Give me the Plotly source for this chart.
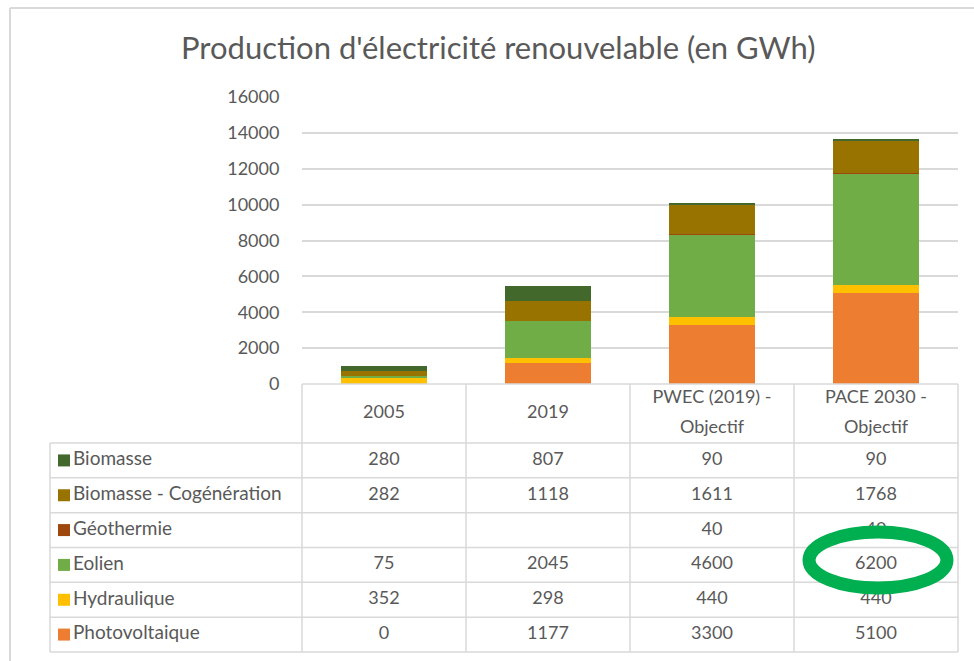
import plotly.graph_objects as go

# ---------------- data ----------------
categories = ["2005", "2019", "PWEC (2019) -\nObjectif", "PACE 2030 -\nObjectif"]
series_names = ["Biomasse", "Biomasse - Cogénération", "Géothermie", "Eolien", "Hydraulique", "Photovoltaique"]
biomasse = [280, 807, 90, 90]
cogeneration = [282, 1118, 1611, 1768]
geothermie = [None, None, 40, 40]
eolien = [75, 2045, 4600, 6200]
hydraulique = [352, 298, 440, 440]
photovoltaique = [0, 1177, 3300, 5100]
y_ticks = [0, 2000, 4000, 6000, 8000, 10000, 12000, 14000, 16000]
title_text = "Production d'électricité renouvelable (en GWh)"

series_values = [biomasse, cogeneration, geothermie, eolien, hydraulique, photovoltaique]
colors = ["#43682B", "#997300", "#9E480E", "#70AD47", "#FFC000", "#ED7D31"]

# ---------------- layout geometry (pixels) ----------------
W, H = 974, 661
PLOT_L, PLOT_R, PLOT_T, PLOT_B = 302, 958, 97, 384
TABLE_L = 50
HEADER_B = 443
ROW_H = (652 - HEADER_B) / 6
FONT = "Lato"
TXT = "#595959"
LINE = "#d9d9d9"

xcats = [c.replace("\n", " ") for c in categories]

fig = go.Figure()

# stacked bars: bottom-up order is reverse of table order
for name, vals, col in reversed(list(zip(series_names, series_values, colors))):
    fig.add_trace(go.Bar(
        x=xcats, y=vals, name=name, marker=dict(color=col, line=dict(width=0)),
        width=0.53, hoverinfo="skip", xaxis="x", yaxis="y"))

# ---------------- data table (overlay pixel axes) ----------------
col_w = (PLOT_R - PLOT_L) / len(categories)
col_centers = [PLOT_L + col_w * (i + 0.5) for i in range(len(categories))]

tx, ty, tt = [], [], []
hdr_mid = (PLOT_B + HEADER_B) / 2
for cx, cat in zip(col_centers, categories):
    lines = cat.split("\n")
    if len(lines) == 1:
        tx.append(cx); ty.append(hdr_mid); tt.append(lines[0])
    else:
        tx += [cx, cx]; ty += [hdr_mid - 15, hdr_mid + 15]; tt += lines
for r, vals in enumerate(series_values):
    cy = HEADER_B + ROW_H * (r + 0.5)
    for cx, v in zip(col_centers, vals):
        if v is not None:
            tx.append(cx); ty.append(cy); tt.append(str(v))

fig.add_trace(go.Scatter(
    x=tx, y=ty, text=tt, mode="text", textposition="middle center",
    textfont=dict(family=FONT, size=18, color=TXT),
    xaxis="x2", yaxis="y2", hoverinfo="skip", cliponaxis=False))

row_y = [HEADER_B + ROW_H * (r + 0.5) for r in range(len(series_names))]
fig.add_trace(go.Scatter(
    x=[73] * len(series_names), y=row_y, text=series_names, mode="text",
    textposition="middle right", textfont=dict(family=FONT, size=19, color=TXT),
    xaxis="x2", yaxis="y2", hoverinfo="skip", cliponaxis=False))
fig.add_trace(go.Scatter(
    x=[64] * len(series_names), y=row_y, mode="markers",
    marker=dict(symbol="square", size=12, color=colors, line=dict(width=0)),
    xaxis="x2", yaxis="y2", hoverinfo="skip", cliponaxis=False))

shapes = []
def line(x0, y0, x1, y1, color=LINE, w=1.5):
    shapes.append(dict(type="line", xref="x2", yref="y2", x0=x0, y0=y0, x1=x1, y1=y1,
                       line=dict(color=color, width=w), layer="above"))

line(PLOT_L, PLOT_B, PLOT_R, PLOT_B)
for i in range(7):
    yy = HEADER_B + ROW_H * i
    line(TABLE_L, yy, PLOT_R, yy)
line(TABLE_L, HEADER_B, TABLE_L, 652)
for i in range(len(categories) + 1):
    xx = PLOT_L + col_w * i
    line(xx, PLOT_B, xx, 652)

line(10, 8, W + 5, 8, w=2)
line(10, 8, 10, H + 5, w=2)

shapes.append(dict(type="circle", xref="x2", yref="y2", x0=809, x1=947, y0=532, y1=588,
                   line=dict(color="#00B050", width=13), layer="above"))

fig.update_layout(
    width=W, height=H, margin=dict(l=0, r=0, t=0, b=0, pad=0, autoexpand=False),
    paper_bgcolor="white", plot_bgcolor="rgba(0,0,0,0)",
    barmode="stack", showlegend=False,
    shapes=shapes,
    annotations=[dict(text=title_text, xref="paper", yref="paper", x=498 / W, y=1 - 47 / H,
                      xanchor="center", yanchor="middle", showarrow=False,
                      font=dict(family=FONT, size=31, color=TXT))],
    xaxis=dict(domain=[PLOT_L / W, PLOT_R / W], range=[-0.5, len(categories) - 0.5],
               showticklabels=False, showgrid=False, zeroline=False, showline=False,
               fixedrange=True),
    yaxis=dict(domain=[1 - PLOT_B / H, 1 - PLOT_T / H], range=[0, 16000],
               tickvals=y_ticks, ticktext=[str(v) for v in y_ticks],
               showgrid=True, gridcolor=LINE, gridwidth=1.5, zeroline=False, showline=False,
               ticks="outside", ticklen=18, tickcolor="rgba(0,0,0,0)",
               tickfont=dict(family=FONT, size=18, color=TXT),
               fixedrange=True),
    xaxis2=dict(domain=[0, 1], range=[0, W], visible=False, anchor="y2", fixedrange=True),
    yaxis2=dict(domain=[0, 1], range=[H, 0], visible=False, anchor="x2", fixedrange=True),
)

fig.write_html("out.html", config={"displayModeBar": False},
               post_script="document.body.style.margin='0';")
